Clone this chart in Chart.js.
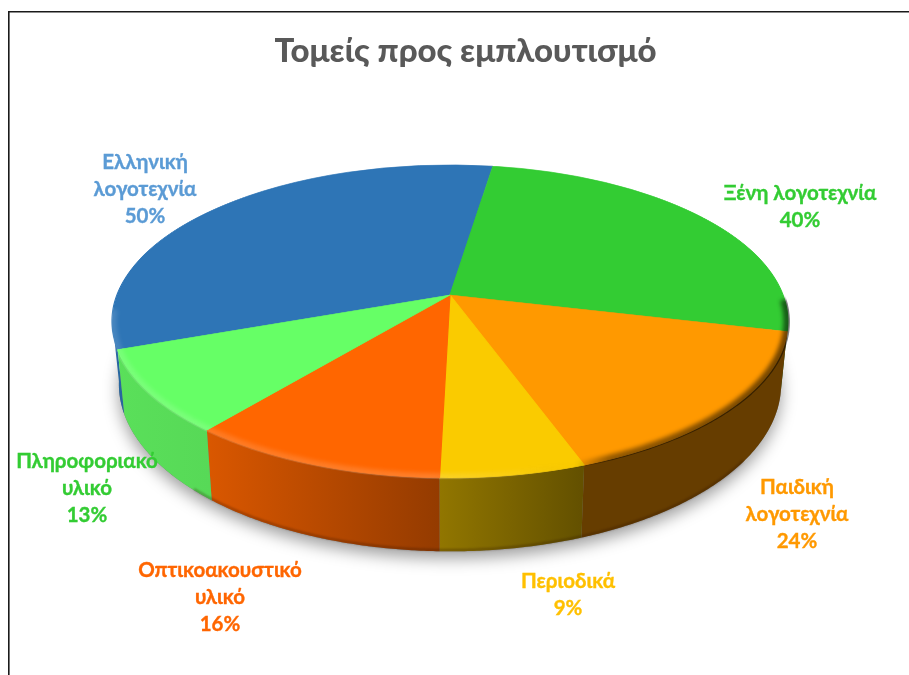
<!DOCTYPE html>
<html lang="el">
<head>
<meta charset="utf-8">
<title>Τομείς προς εμπλουτισμό</title>
<script src="https://cdn.jsdelivr.net/npm/chart.js@4"></script>
<style>html,body{margin:0;padding:0;background:#fff}canvas{display:block;filter:blur(.35px)}</style>
</head>
<body>
<canvas id="c" width="909" height="675"></canvas>
<script>
const categories = [
  ['Ελληνική', 'λογοτεχνία'],
  ['Ξένη λογοτεχνία'],
  ['Παιδική', 'λογοτεχνία'],
  ['Περιοδικά'],
  ['Οπτικοακουστικό', 'υλικό'],
  ['Πληροφοριακό', 'υλικό']
];
const values = [50, 40, 24, 9, 16, 13];
const sliceColors = ['#2E75B6', '#33CC33', '#FF9900', '#FACB00', '#FF6600', '#66FF66'];
const labelColors = ['#5B9BD5', '#33CC33', '#FF9900', '#FFC000', '#FF6600', '#33CC33'];
const titleText = 'Τομείς προς εμπλουτισμό';

// layout of the tilted disc
const Cx = 450, Cy = 295, A = 333, B = 152, K = 0.169, DROP = 61, NARROW = 0.98;
const labelCentreX = [145, 800, 797, 568, 220, 87];
const labelFirstY = [162, 193, 487, 581, 570, 461];
const labelLine = 27;
const labelFont = '700 20.5px Lato, "Open Sans"';

function project(a, r, drop, narrow) {
  const u = r * Math.sin(a), v = -r * Math.cos(a), w = 1 - K * v;
  return [Cx + narrow * A * u / w, Cy + (B * v + drop) / w];
}
function rgb(hex, f) {
  const n = parseInt(hex.slice(1), 16);
  return `rgb(${Math.round((n >> 16 & 255) * f)},${Math.round((n >> 8 & 255) * f)},${Math.round((n & 255) * f)})`;
}
function trace(ctx, pts, start) {
  pts.forEach((p, i) => (i === 0 && start) ? ctx.moveTo(p[0], p[1]) : ctx.lineTo(p[0], p[1]));
}
function rimPoints(a0, a1, drop, narrow, r) {
  const out = [], n = Math.max(2, Math.ceil(Math.abs(a1 - a0) / 0.01));
  for (let i = 0; i <= n; i++) out.push(project(a0 + (a1 - a0) * i / n, r || 1, drop, narrow));
  return out;
}
const wallStops = [[112, .88], [210, .85], [440, .58], [580, .40], [788, .40]];

const tiltedPie = {
  id: 'tiltedPie',
  beforeDraw(chart) {
    const ctx = chart.ctx;
    ctx.save();
    ctx.fillStyle = '#1a1a1a';
    ctx.fillRect(8, 11, 909, 1.5);
    ctx.fillRect(8, 11, 1.6, 675);
    ctx.restore();
  },
  beforeDatasetsDraw(chart) {
    const ctx = chart.ctx;
    const arcs = chart.getDatasetMeta(0).data;
    const full = Math.PI * 2;

    // soft shadow under the base
    ctx.save();
    ctx.shadowColor = 'rgba(0,0,0,.38)';
    ctx.shadowBlur = 16;
    ctx.shadowOffsetY = 7;
    ctx.fillStyle = '#777';
    ctx.beginPath();
    trace(ctx, rimPoints(0, full, DROP, NARROW), true);
    ctx.closePath();
    ctx.fill();
    ctx.restore();

    // side walls
    arcs.forEach((arc, i) => {
      const a0 = arc.startAngle + Math.PI / 2, a1 = arc.endAngle + Math.PI / 2;
      const vis = [];
      const n = Math.ceil((a1 - a0) / 0.008);
      for (let j = 0; j <= n; j++) {
        const a = a0 + (a1 - a0) * j / n;
        if (-Math.cos(a) > K - 0.02) vis.push(a);
      }
      if (vis.length < 2) return;
      const g = ctx.createLinearGradient(112, 0, 788, 0);
      wallStops.forEach(s => g.addColorStop((s[0] - 112) / 676, rgb(sliceColors[i], s[1])));
      ctx.save();
      ctx.fillStyle = g;
      ctx.beginPath();
      const top = vis.map(a => project(a, 1, 0, 1));
      const bot = vis.map(a => project(a, 1, DROP, NARROW)).reverse();
      trace(ctx, top, true);
      trace(ctx, bot, false);
      ctx.closePath();
      ctx.fill();
      ctx.restore();
    });

    // darker base edge
    ctx.save();
    ctx.filter = 'blur(1px)';
    ctx.strokeStyle = 'rgba(40,15,0,.35)';
    ctx.lineWidth = 2;
    ctx.beginPath();
    trace(ctx, rimPoints(2.2, 3.9, DROP - 1, NARROW), true);
    ctx.stroke();
    ctx.restore();

    // top face: the library's own arcs, drawn row by row through the tilt
    const first = arcs[0], R = first.outerRadius, ax = first.x, ay = first.y;
    for (let y = Cy - 135; y < Cy + 190; y++) {
      const dy = y + 0.5 - Cy;
      const v = dy / (B + K * dy);
      const w = 1 - K * v;
      const sx = A / (R * w), sy = B / (R * w * w);
      ctx.save();
      ctx.beginPath();
      ctx.rect(0, y, 909, 1);
      ctx.clip();
      ctx.setTransform(sx, 0, 0, sy, Cx - sx * ax, y + 0.5 - sy * (ay + R * v));
      arcs.forEach(arc => arc.draw(ctx));
      ctx.restore();
    }

    // bevel along the rim
    ctx.save();
    ctx.beginPath();
    trace(ctx, rimPoints(0, full, 0, 1, 1.006), true);
    ctx.closePath();
    ctx.clip();
    const bev = ctx.createLinearGradient(112, 0, 788, 0);
    const bevStops = [
      [112, 'rgba(255,255,255,.12)'], [430, 'rgba(255,255,255,.16)'], [520, 'rgba(255,255,255,.05)'],
      [575, 'rgba(0,0,0,0)'], [610, 'rgba(0,0,0,.42)'], [788, 'rgba(0,0,0,.55)']
    ];
    bevStops.forEach(s => bev.addColorStop((s[0] - 112) / 676, s[1]));
    ctx.filter = 'blur(2px)';
    ctx.strokeStyle = bev;
    ctx.lineWidth = 9;
    ctx.beginPath();
    trace(ctx, rimPoints(1.6, 4.62, 0, 1, 1), true);
    ctx.stroke();
    ctx.restore();
    return false;
  },
  afterDraw(chart) {
    const ctx = chart.ctx;
    ctx.save();
    ctx.font = labelFont;
    ctx.textAlign = 'center';
    ctx.textBaseline = 'middle';
    ctx.lineWidth = 0.35;
    categories.forEach((lines, i) => {
      ctx.fillStyle = labelColors[i];
      ctx.strokeStyle = labelColors[i];
      [...lines, values[i] + '%'].forEach((t, j) => {
        ctx.fillText(t, labelCentreX[i], labelFirstY[i] + j * labelLine);
        ctx.strokeText(t, labelCentreX[i], labelFirstY[i] + j * labelLine);
      });
    });
    ctx.restore();
  }
};

new Chart(document.getElementById('c'), {
  type: 'pie',
  data: {
    labels: categories.map(c => c.join(' ')),
    datasets: [{
      data: values,
      backgroundColor: sliceColors,
      borderColor: sliceColors,
      borderWidth: 1
    }]
  },
  options: {
    responsive: false,
    animation: false,
    rotation: -109.8,
    layout: { padding: { left: 22 } },
    plugins: {
      legend: { display: false },
      tooltip: { enabled: false },
      title: {
        display: true,
        text: titleText,
        color: '#595959',
        font: { family: 'Lato, "Open Sans"', size: 33, weight: '900' },
        padding: { top: 32, bottom: 10 }
      }
    }
  },
  plugins: [tiltedPie]
});
</script>
</body>
</html>
